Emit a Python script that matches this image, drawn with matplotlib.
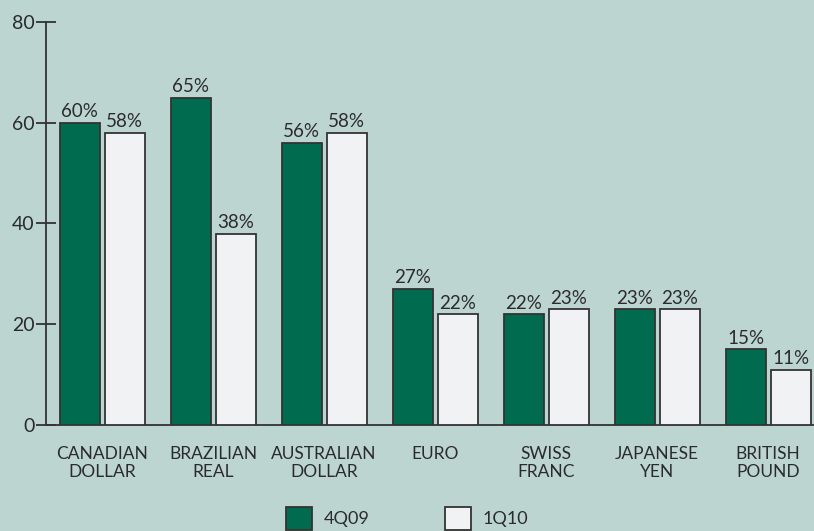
import matplotlib
matplotlib.use("Agg")
import matplotlib.pyplot as plt
import numpy as np
from matplotlib.patches import Patch

categories = ["CANADIAN\nDOLLAR", "BRAZILIAN\nREAL", "AUSTRALIAN\nDOLLAR", "EURO",
              "SWISS\nFRANC", "JAPANESE\nYEN", "BRITISH\nPOUND"]
q4_09 = [60, 65, 56, 27, 22, 23, 15]
q1_10 = [58, 38, 58, 22, 23, 23, 11]
series_names = ["4Q09", "1Q10"]
yticks = [0, 20, 40, 60, 80]

bg = "#bcd5d0"
green = "#006b4f"
light = "#f1f2f4"
edge = "#333333"
txt = "#2b2b2b"

plt.rcParams['font.family'] = ['Lato', 'DejaVu Sans']

fig = plt.figure(figsize=(8.14, 5.31), dpi=100, facecolor=bg)
ax = fig.add_axes([46/814, 106/531, 768/814, 403/531], facecolor=bg)

x = np.arange(len(categories))
w = 0.36
gap = 0.045
b1 = ax.bar(x - (w + gap)/2, q4_09, w, color=green, edgecolor=edge, linewidth=1.3, zorder=3)
b2 = ax.bar(x + (w + gap)/2, q1_10, w, color=light, edgecolor=edge, linewidth=1.3, zorder=3)

for bars, vals in ((b1, q4_09), (b2, q1_10)):
    for r, v in zip(bars, vals):
        ax.text(r.get_x() + r.get_width()/2, v + 0.5, f"{v}%", ha="center", va="bottom",
                fontsize=13.5, color=txt)

ax.set_xlim(-0.505, 6.414)
ax.set_ylim(0, 80)
ax.set_yticks(yticks)
ax.set_xticks(x)
ax.set_xticklabels(categories, fontsize=12.5, color=txt, linespacing=1.15)
ax.tick_params(axis="x", length=0, pad=15)
ax.tick_params(axis="y", direction="inout", length=14, width=1.3, color=edge,
               labelsize=14, labelcolor=txt, pad=1)

for s in ("top", "right"):
    ax.spines[s].set_visible(False)
ax.spines["left"].set_color(edge)
ax.spines["left"].set_linewidth(1.3)
ax.spines["bottom"].set_color(edge)
ax.spines["bottom"].set_linewidth(1.3)

handles = [Patch(facecolor=green, edgecolor=edge, linewidth=1.3),
           Patch(facecolor=light, edgecolor=edge, linewidth=1.3)]
fig.legend(handles, series_names, loc="center", bbox_to_anchor=(0.5, 0.024), ncol=2,
           frameon=False, fontsize=13, handlelength=1.45, handleheight=1.6,
           columnspacing=4.2, handletextpad=0.6, labelcolor=txt)

fig.savefig("out.png", dpi=100, facecolor=bg)
